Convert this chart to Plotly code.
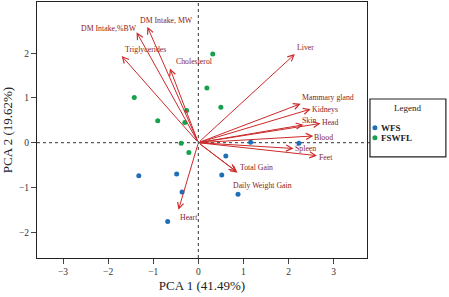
import plotly.graph_objects as go

# ---- data ----
wfs_pc1 = [1.16, 2.23, 0.61, -1.32, -0.48, 0.52, -0.36, 0.88, -0.68]
wfs_pc2 = [0.01, -0.01, -0.30, -0.74, -0.70, -0.72, -1.10, -1.15, -1.76]
fswfl_pc1 = [0.32, 0.19, -1.42, -0.26, 0.50, -0.90, -0.30, -0.38, -0.21]
fswfl_pc2 = [1.98, 1.22, 1.01, 0.72, 0.79, 0.49, 0.45, -0.01, -0.22]

var_names = ["DM Intake,%BW", "DM Intake, MW", "Triglycerides", "Cholesterol", "Liver",
             "Mammary gland", "Kidneys", "Skin", "Head", "Blood", "Spleen", "Feet",
             "Total Gain", "Daily Weight Gain", "Heart"]
load_pc1 = [-1.37, -1.13, -1.70, -0.63, 2.14, 2.27, 2.49, 2.33, 2.71, 2.55, 2.11, 2.63, 0.87, 0.84, -0.44]
load_pc2 = [2.47, 2.59, 1.94, 1.66, 1.98, 0.87, 0.75, 0.40, 0.43, 0.15, -0.13, -0.29, -0.67, -0.64, -1.50]

x_ticks = [-3, -2, -1, 0, 1, 2, 3]
y_ticks = [-2, -1, 0, 1, 2]
x_title = "PCA 1 (41.49%)"
y_title = "PCA 2 (19.62%)"
legend_title = "Legend"
group_names = ["WFS", "FSWFL"]

# label offsets (pixels) relative to arrow tips
label_dx = [-28, 19, 24, 25, 11, 27, 14, 6, 10, 10, 12, 9, 19, 26, 11]
label_dy = [4, 6, 6, 7, 7, 6, 0, 4, 1, -2, 0, -2, 5, -14, -8]

FONT = "Liberation Serif"
BLUE = "#1f6fb8"
GREEN = "#17a04e"
ARROW = "#cc2a2a"
LABEL = "#8b2222"

fig = go.Figure()
fig.add_trace(go.Scatter(x=wfs_pc1, y=wfs_pc2, mode="markers", name=group_names[0],
                         marker=dict(color=BLUE, size=5), showlegend=False))
fig.add_trace(go.Scatter(x=fswfl_pc1, y=fswfl_pc2, mode="markers", name=group_names[1],
                         marker=dict(color=GREEN, size=5), showlegend=False))

shapes = [
    dict(type="line", xref="x", yref="paper", x0=0, x1=0, y0=0, y1=1,
         line=dict(color="#333", width=1, dash="dot"), layer="below"),
    dict(type="line", xref="paper", yref="y", x0=0, x1=1.01, y0=0, y1=0,
         line=dict(color="#333", width=1, dash="dot"), layer="below"),
    # legend box
    dict(type="rect", xref="paper", yref="paper", x0=1.009, x1=1.239, y0=0.395, y1=0.621,
         line=dict(color="#222", width=1.2), fillcolor="white"),
]
annotations = []
for name, px, py, dx, dy in zip(var_names, load_pc1, load_pc2, label_dx, label_dy):
    annotations.append(dict(x=px, y=py, ax=0, ay=0, xref="x", yref="y", axref="x", ayref="y",
                            text="", showarrow=True, arrowhead=5, arrowsize=1.2,
                            arrowwidth=1, arrowcolor=ARROW))
    annotations.append(dict(x=px, y=py, xref="x", yref="y", text=name, showarrow=False,
                            xanchor="center", yanchor="middle",
                            xshift=dx, yshift=dy, font=dict(family=FONT, size=7.8, color=LABEL)))

# manual legend
annotations.append(dict(x=1.124, y=0.585, xref="paper", yref="paper", text=legend_title,
                        xanchor="center", yanchor="middle",
                        showarrow=False, font=dict(family=FONT, size=9, color="#222")))
for i, (gname, col) in enumerate(zip(group_names, [BLUE, GREEN])):
    yp = 0.509 - i * 0.039
    shapes.append(dict(type="circle", xref="paper", yref="paper", xsizemode="pixel",
                       ysizemode="pixel", xanchor=1.024, yanchor=yp, x0=-2.5, x1=2.5,
                       y0=-2.5, y1=2.5, fillcolor=col, line=dict(width=0)))
    annotations.append(dict(x=1.037, y=yp, xref="paper", yref="paper", text="<b>%s</b>" % gname,
                            xanchor="left", yanchor="middle", showarrow=False,
                            font=dict(family=FONT, size=9, color="#222")))

fig.update_layout(
    width=449, height=297,
    margin=dict(l=37, r=82, t=2, b=39, autoexpand=False),
    plot_bgcolor="white", paper_bgcolor="white",
    font=dict(family=FONT, size=10, color="#333"),
    shapes=shapes, annotations=annotations,
    xaxis=dict(range=[-3.577, 3.74], tickvals=x_ticks, ticks="outside", ticklen=5,
               showgrid=False, zeroline=False, showline=True, linecolor="#222",
               linewidth=1, mirror=True, tickfont=dict(size=9.5), automargin=False,
               title=dict(text=x_title, font=dict(size=13, color="#222"), standoff=4)),
    yaxis=dict(range=[-2.577, 3.144], tickvals=y_ticks, ticks="outside", ticklen=5,
               showgrid=False, zeroline=False, showline=True, linecolor="#222",
               linewidth=1, mirror=True, tickfont=dict(size=9.5), automargin=False,
               title=dict(text=y_title, font=dict(size=13, color="#222"), standoff=4)),
)

fig.write_html("out.html", config={"displayModeBar": False},
               post_script="document.body.style.margin='0';document.body.style.overflow='hidden';")
